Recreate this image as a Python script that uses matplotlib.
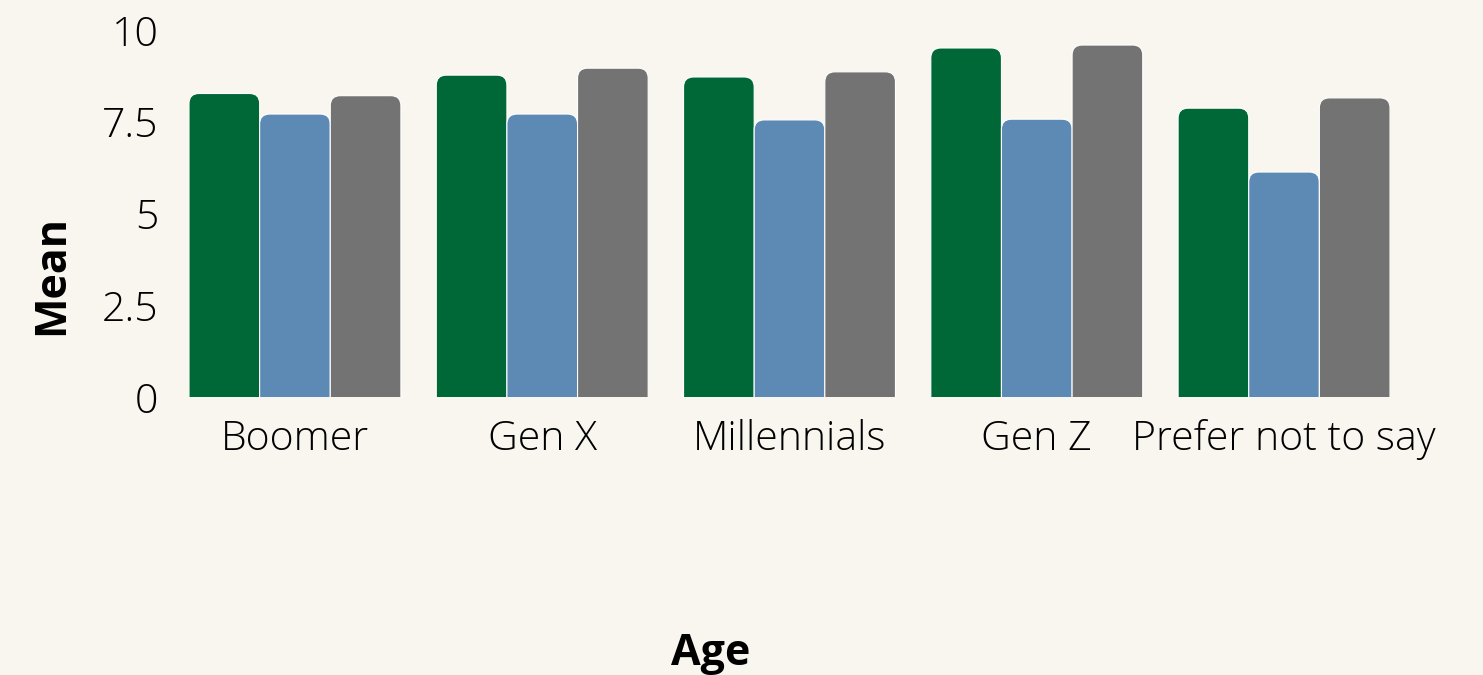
import numpy as np
import matplotlib.pyplot as plt
from matplotlib.patches import FancyBboxPatch

ages = ['Boomer', 'Gen X', 'Millennials', 'Gen Z', 'Prefer not to say']
series_a = [8.27, 8.77, 8.72, 9.51, 7.87]
series_b = [7.71, 7.71, 7.55, 7.57, 6.13]
series_c = [8.21, 8.96, 8.86, 9.59, 8.15]
yticks = [0, 2.5, 5, 7.5, 10]
ytick_labels = ['0', '2.5', '5', '7.5', '10']

colors = ['#006837', '#5d8ab4', '#737373']
bg = '#f9f6f0'

plt.rcParams['font.family'] = ['Open Sans', 'DejaVu Sans']

fig = plt.figure(figsize=(14.83, 6.75), dpi=100, facecolor=bg)
ax = fig.add_axes([189 / 1483, 1 - 397 / 675, (1390 - 189) / 1483, (397 - 30) / 675])
ax.set_facecolor(bg)

x = np.arange(len(ages))
w = 0.857 / 3
bars = []
for i, vals in enumerate([series_a, series_b, series_c]):
    bars.append(ax.bar(x + (i - 1) * w, vals, width=w, color=colors[i]))

ax.set_xlim(-1.5 * w, len(ages) - 1 + 1.5 * w)
ax.set_ylim(0, 10)

# rounded tops: swap each rectangle for a rounded box extended below zero
px_x = (1390 - 189) / (ax.get_xlim()[1] - ax.get_xlim()[0])
px_y = (397 - 30) / 10
r = 10
for i, bc in enumerate(bars):
    for rect in bc:
        bx, by = rect.get_x(), rect.get_y()
        bw, bh = rect.get_width(), rect.get_height()
        rect.remove()
        ext = r / px_y * 1.5
        p = FancyBboxPatch((bx, by - ext), bw, bh + ext,
                           boxstyle=f"round,pad=0,rounding_size={r / px_x}",
                           mutation_aspect=px_x / px_y,
                           facecolor=colors[i], edgecolor='white', linewidth=0.8)
        ax.add_patch(p)

ax.set_xticks(x)
ax.set_xticklabels(ages, fontweight='light')
ax.set_yticks(yticks)
ax.set_yticklabels(ytick_labels, fontweight='light')
ax.tick_params(length=0, labelsize=29.5, colors='black')
ax.tick_params(axis='y', pad=22)
ax.tick_params(axis='x', pad=16)
for s in ax.spines.values():
    s.set_visible(False)

fig.text(711 / 1483, 1 - 665 / 675, 'Age', ha='center', va='baseline',
         fontsize=31, fontweight='bold')
fig.text(52 / 1483, 1 - 275 / 675, 'Mean', ha='center', va='center',
         rotation=90, fontsize=31, fontweight='bold')

fig.savefig('out.png', dpi=100, facecolor=bg)
